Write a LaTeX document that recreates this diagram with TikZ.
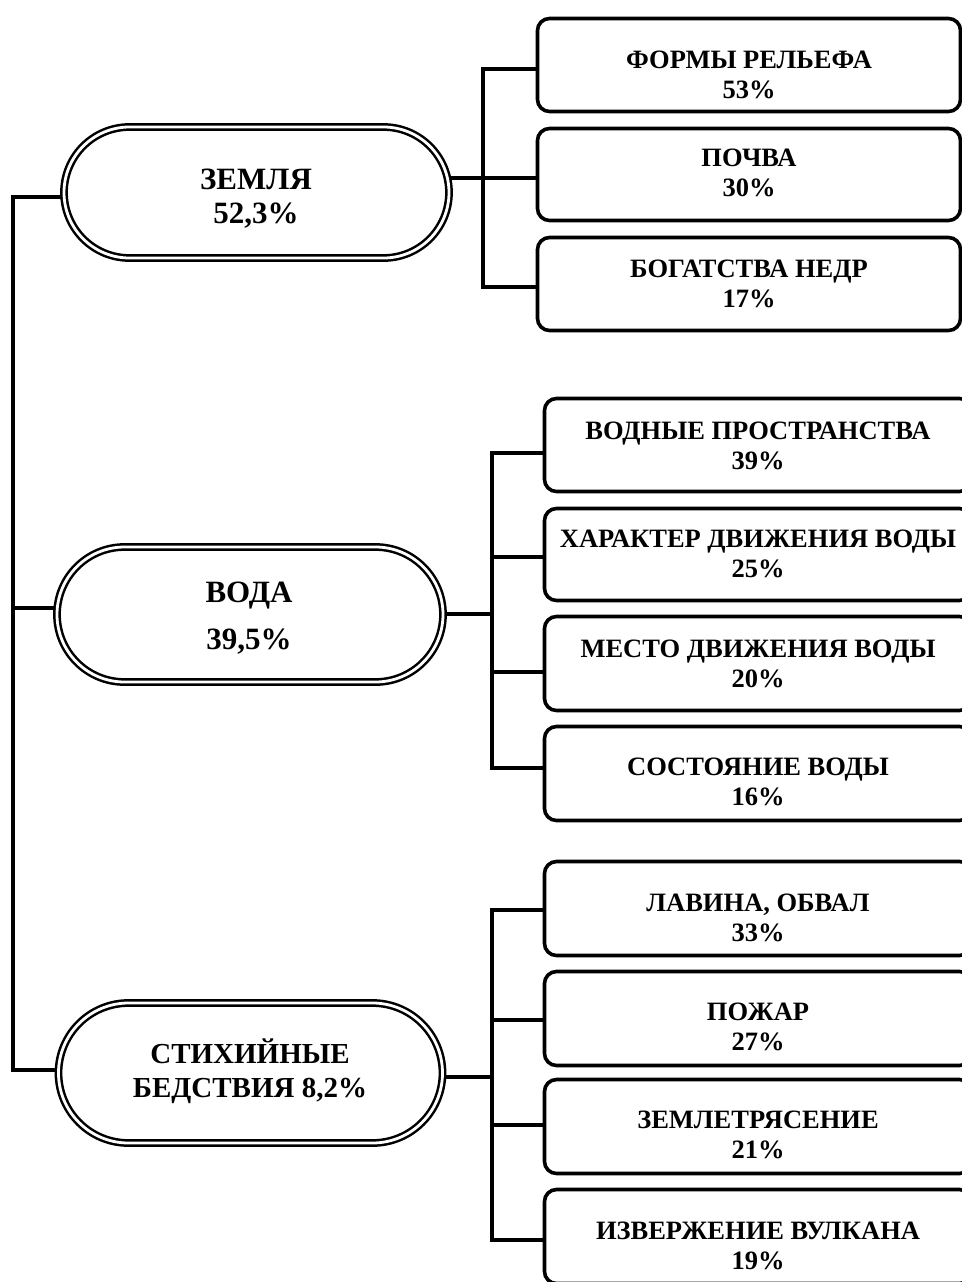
\documentclass[tikz,border=0pt]{standalone}
\usepackage{fontspec}
\setmainfont{Liberation Serif}
\usetikzlibrary{shapes.misc}
\pgfdeclarelayer{bg}
\pgfsetlayers{bg,main}
\begin{document}
\begin{tikzpicture}[x=1pt,y=-1pt,
  conn/.style={line width=3.4pt, line join=miter},
  stad/.style={rounded rectangle, draw, fill=white, double, line width=2.5pt, double distance=2.8pt, minimum width=385pt, inner sep=0pt},
  leaf/.style={draw, fill=white, line width=3.6pt, rounded corners=12pt, minimum height=93pt, inner sep=0pt},
  stxt/.style={font=\bfseries\fontsize{31}{34}\selectfont, align=center, inner sep=0pt},
  ltxt/.style={font=\bfseries\fontsize{26.5}{30}\selectfont, align=center, inner sep=0pt}]
\useasboundingbox (0,0) rectangle (961,1282);

% main category shapes
\node[stad, minimum height=131pt] (e1) at (256.5,192.5) {};
\node[stad, minimum height=135pt, minimum width=386pt] (e2) at (250,614.5) {};
\node[stad, minimum height=140pt, minimum width=384pt] (e3) at (250.5,1073) {};
\node[stxt] (e1t) at (256,198.5) {ЗЕМЛЯ\\52,3\%};
\node[stxt] (e2t) at (249,618.5) {ВОДА\\[13pt]39,5\%};
\node[stxt, font=\bfseries\fontsize{29}{34}\selectfont] (e3t) at (250,1071) {СТИХИЙНЫЕ\\БЕДСТВИЯ 8,2\%};

% group 1
\node[leaf, minimum width=423pt] (b11) at (749,65) {};
\node[leaf, minimum width=423pt, minimum height=92pt] (b12) at (749,174.5) {};
\node[leaf, minimum width=423pt] (b13) at (749,284) {};
\node[ltxt] (t11) at (749,74.5) {ФОРМЫ РЕЛЬЕФА\\53\%};
\node[ltxt] (t12) at (749,173) {ПОЧВА\\30\%};
\node[ltxt] (t13) at (749,283.5) {БОГАТСТВА НЕДР\\17\%};

% group 2
\node[leaf, minimum width=427pt] (b21) at (758,445) {};
\node[leaf, minimum width=427pt, minimum height=92pt] (b22) at (758,554.5) {};
\node[leaf, minimum width=427pt, minimum height=94pt] (b23) at (758,663.5) {};
\node[leaf, minimum width=427pt, minimum height=94pt] (b24) at (758,773.5) {};
\node[ltxt] (t21) at (758,446) {ВОДНЫЕ ПРОСТРАНСТВА\\39\%};
\node[ltxt] (t22) at (758,554) {ХАРАКТЕР ДВИЖЕНИЯ ВОДЫ\\25\%};
\node[ltxt] (t23) at (758,663.5) {МЕСТО ДВИЖЕНИЯ ВОДЫ\\20\%};
\node[ltxt] (t24) at (758,782) {СОСТОЯНИЕ ВОДЫ\\16\%};

% group 3
\node[leaf, minimum width=427pt, minimum height=94pt] (b31) at (758,908.5) {};
\node[leaf, minimum width=427pt, minimum height=94pt] (b32) at (758,1018.5) {};
\node[leaf, minimum width=427pt, minimum height=94pt] (b33) at (758,1126.5) {};
\node[leaf, minimum width=427pt, minimum height=94pt] (b34) at (758,1236.5) {};
\node[ltxt] (t31) at (758,917.5) {ЛАВИНА, ОБВАЛ\\33\%};
\node[ltxt] (t32) at (758,1027) {ПОЖАР\\27\%};
\node[ltxt] (t33) at (758,1135) {ЗЕМЛЕТРЯСЕНИЕ\\21\%};
\node[ltxt] (t34) at (758,1246) {ИЗВЕРЖЕНИЕ ВУЛКАНА\\19\%};

% junction coordinates
\coordinate (L1) at (13,197);
\coordinate (L2) at (13,608);
\coordinate (L3) at (13,1070);
\coordinate (A1) at (483,69);
\coordinate (j1) at (483,178);
\coordinate (A3) at (483,287);
\coordinate (C1) at (492,453);
\coordinate (C2) at (492,557);
\coordinate (j2) at (492,614);
\coordinate (C3) at (492,672);
\coordinate (C4) at (492,768);
\coordinate (D1) at (492,910);
\coordinate (D2) at (492,1020);
\coordinate (j3) at (492,1077);
\coordinate (D3) at (492,1125);
\coordinate (D4) at (492,1240);

\begin{pgfonlayer}{bg}
\fill[white] (0,0) rectangle (961,1282);
\draw[conn] (e1.center |- L1) -- (L1) -- (L3) -- (e3.center |- L3);
\draw[conn] (L2) -- (e2.center |- L2);

\draw[conn] (e1.center |- j1) -- (j1);
\draw[conn] (b11.center |- A1) -- (A1) -- (A3) -- (b13.center |- A3);
\draw[conn] (j1) -- (b12.center |- j1);

\draw[conn] (e2.center |- j2) -- (j2);
\draw[conn] (b21.center |- C1) -- (C1) -- (C4) -- (b24.center |- C4);
\draw[conn] (C2) -- (b22.center |- C2);
\draw[conn] (C3) -- (b23.center |- C3);

\draw[conn] (e3.center |- j3) -- (j3);
\draw[conn] (b31.center |- D1) -- (D1) -- (D4) -- (b34.center |- D4);
\draw[conn] (D2) -- (b32.center |- D2);
\draw[conn] (D3) -- (b33.center |- D3);
\end{pgfonlayer}
\end{tikzpicture}
\end{document}
